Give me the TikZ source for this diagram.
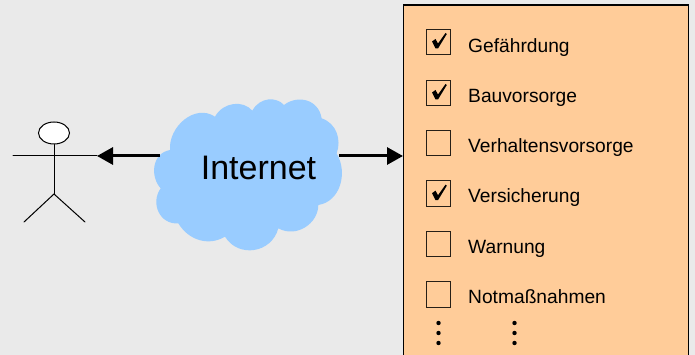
\documentclass[tikz,border=0pt]{standalone}
\usepackage{fontspec}
\setmainfont{Liberation Sans}
\usetikzlibrary{arrows.meta,calc,shapes.geometric}
\definecolor{bgc}{HTML}{EAEAEA}
\definecolor{cloudc}{HTML}{99CCFF}
\definecolor{panelc}{HTML}{FFCC99}
\tikzset{
  x=1pt,y=-1pt,
  chk/.style={draw=black!85!panelc,line width=0.9pt,minimum width=24pt,minimum height=25.5pt,inner sep=0pt,fill=panelc},
  lbl/.style={anchor=base west,inner sep=0pt,font=\fontsize{19.2pt}{22pt}\selectfont},
  conn/.style={line width=3pt,-{Triangle[length=16pt,width=17pt]}},
  limb/.style={line width=1pt,line cap=round},
  dot/.style={circle,fill=black,inner sep=0pt,minimum size=4.4pt}
}
\newcommand{\tickmark}[1]{\fill[black] ($(#1)+(-6.5,-0.5)$) -- ($(#1)+(-3,-3)$) -- ($(#1)+(-0.5,1.5)$) -- ($(#1)+(7,-9)$) -- ($(#1)+(8.3,-8)$) -- ($(#1)+(-0.5,6.5)$) -- ($(#1)+(-3,6.5)$) -- cycle;}
\begin{document}
\begin{tikzpicture}
\useasboundingbox (0,0) rectangle (695,355);
\fill[bgc] (0,0) rectangle (695,355);
% panel
\node[draw=black,line width=1.4pt,fill=panelc,minimum width=285pt,minimum height=360pt,inner sep=0pt,anchor=north west] (panel) at (403,4.5) {};
% cloud
\begin{scope}[shift={(140,90)},x=0.3333pt,y=-0.3333pt]
\fill[cloudc] (62,295)
 .. controls (30,260) and (35,190) .. (90,180)
 .. controls (85,110) and (165,40) .. (225,80)
 .. controls (250,35) and (310,30) .. (337,62)
 .. controls (360,20) and (410,20) .. (432,45)
 .. controls (470,15) and (535,25) .. (545,85)
 .. controls (590,100) and (605,150) .. (590,190)
 .. controls (625,250) and (600,335) .. (535,345)
 .. controls (535,400) and (470,445) .. (415,415)
 .. controls (395,490) and (295,505) .. (255,440)
 .. controls (205,470) and (145,450) .. (115,400)
 .. controls (60,405) and (30,340) .. (62,295) -- cycle;
\end{scope}
\node[anchor=base,inner sep=0pt,font=\fontsize{34pt}{38pt}\selectfont] (inet) at (258.5,179.2) {Internet};
% actor
\node[draw=black,line width=1pt,fill=white,ellipse,minimum width=31pt,minimum height=22pt,inner sep=0pt] (head) at (54,133) {};
\coordinate (armL) at (13,156);
\coordinate (armR) at (97,156);
\coordinate (crotch) at (54,194);
\coordinate (footL) at (24,222);
\coordinate (footR) at (85,222);
\draw[limb] (armL) -- (armR);
\draw[limb] (head) -- (crotch);
\draw[limb] (crotch) -- (footL);
\draw[limb] (crotch) -- (footR);
% connectors
\coordinate (cloudL) at (160,156);
\coordinate (cloudR) at (339,156);
\coordinate (panelL) at (403,156);
\draw[conn] (cloudL) -- (armR);
\draw[conn] (cloudR) -- (panelL);
% boxes
\foreach \n/\y/\b/\t in {a/42/52.7/Gefährdung,b/93/102.3/Bauvorsorge,c/143/152.3/Verhaltensvorsorge,d/193.7/203/Versicherung,e/244/253.6/Warnung,f/294.5/303.2/Notmaßnahmen}{
  \node[chk] (box\n) at (438.5,\y) {};
  \node[lbl] (txt\n) at (468,\b) {\t};
}
\tickmark{boxa}
\tickmark{boxb}
\tickmark{boxd}
% dots
\foreach \i/\y in {1/323,2/333,3/343}{
  \node[dot] (dl\i) at (438.5,\y) {};
  \node[dot] (dr\i) at (514.5,\y) {};
}
\end{tikzpicture}
\end{document}
